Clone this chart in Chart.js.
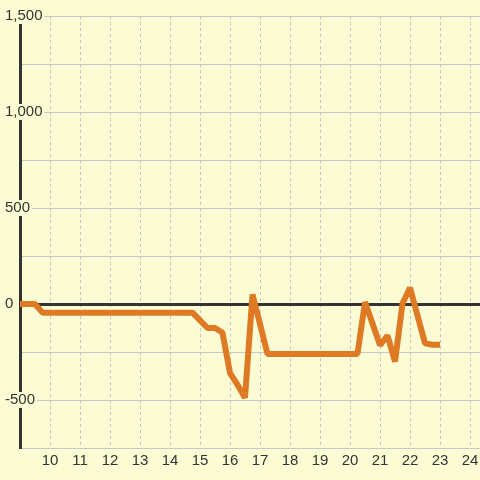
<!DOCTYPE html>
<html>
<head>
<meta charset="utf-8">
<script src="https://cdn.jsdelivr.net/npm/chart.js@4/dist/chart.umd.min.js"></script>
<style>
  html, body { margin: 0; padding: 0; background: #fcfcd4; }
  #wrap { width: 480px; height: 480px; }
</style>
</head>
<body>
<div id="wrap"><canvas id="c" width="480" height="480"></canvas></div>
<script>
// Hour of day (quarter-hour steps)
const hours = [
  8.75, 9, 9.25, 9.5, 9.75,
  10, 10.25, 10.5, 10.75, 11, 11.25, 11.5, 11.75, 12, 12.25, 12.5, 12.75,
  13, 13.25, 13.5, 13.75, 14, 14.25, 14.5, 14.75,
  15, 15.25, 15.5, 15.75, 16, 16.25, 16.5, 16.75, 17, 17.25,
  17.5, 17.75, 18, 18.25, 18.5, 18.75, 19, 19.25, 19.5, 19.75, 20, 20.25,
  20.5, 20.75, 21, 21.25, 21.5, 21.75, 22, 22.25, 22.5, 22.75, 23
];
// Series values
const values = [
  0, 0, 0, 0, -45,
  -45, -45, -45, -45, -45, -45, -45, -45, -45, -45, -45, -45,
  -45, -45, -45, -45, -45, -45, -45, -45,
  -85, -125, -125, -150, -360, -420, -488, 50, -104, -260,
  -260, -260, -260, -260, -260, -260, -260, -260, -260, -260, -260, -260,
  10, -102, -215, -164, -300, 3, 85, -60, -205, -212, -212
];
// Tick labels
const yLabelValues = [-500, 0, 500, 1000, 1500];
const xTickLabels = [10, 11, 12, 13, 14, 15, 16, 17, 18, 19, 20, 21, 22, 23, 24];

const BG = '#fcfcd4';
const FONT = { family: "'Liberation Sans', Arial, Helvetica, sans-serif", size: 15 };

const bgPlugin = {
  id: 'bg',
  beforeDraw(chart) {
    const c = chart.ctx;
    c.save();
    c.fillStyle = BG;
    c.fillRect(0, 0, chart.width, chart.height);
    c.restore();
  }
};

new Chart(document.getElementById('c').getContext('2d'), {
  type: 'line',
  data: {
    datasets: [{
      data: hours.map((h, i) => ({ x: h, y: values[i] })),
      borderColor: '#df7a24',
      borderWidth: 6,
      borderJoinStyle: 'bevel',
      pointRadius: 0,
      tension: 0,
      fill: false
    }]
  },
  options: {
    responsive: false,
    animation: false,
    events: [],
    plugins: { legend: { display: false }, tooltip: { enabled: false } },
    layout: { padding: { left: 0, top: 16, right: 0, bottom: 0 } },
    scales: {
      x: {
        type: 'linear',
        min: 9,
        max: 24.333,
        ticks: {
          stepSize: 1,
          includeBounds: false,
          autoSkip: false,
          maxRotation: 0,
          padding: 4,
          color: '#333',
          font: FONT,
          callback: v => xTickLabels.includes(v) ? String(v) : ''
        },
        grid: { color: '#c4c4c4', lineWidth: 1, drawTicks: false },
        border: { display: false, dash: [3, 3] },
        afterFit: s => { s.height = 32; s.paddingLeft = 0; s.paddingRight = 0; }
      },
      y: {
        type: 'linear',
        min: -750,
        max: 1500,
        ticks: {
          stepSize: 250,
          mirror: true,
          crossAlign: 'near',
          padding: -15,
          color: '#333',
          font: FONT,
          z: 2,
          showLabelBackdrop: c => yLabelValues.includes(c.tick.value),
          backdropColor: BG,
          backdropPadding: { top: -1, bottom: -1, left: 2, right: 2 },
          callback: v => yLabelValues.includes(v) ? v.toLocaleString('en-US') : ''
        },
        grid: {
          color: c => c.tick.value === 0 ? '#333' : '#c8c8c8',
          lineWidth: c => c.tick.value === 0 ? 3 : 1,
          drawTicks: false
        },
        border: { color: '#333', width: 3 },
        afterFit: s => { s.width = 20; s.paddingTop = 0; s.paddingBottom = 0; }
      }
    }
  },
  plugins: [bgPlugin]
});
</script>
</body>
</html>
